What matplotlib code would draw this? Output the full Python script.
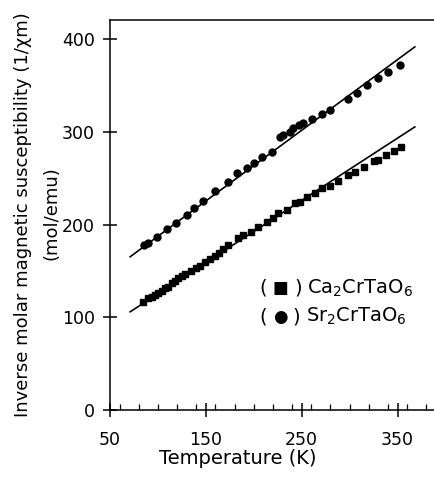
import matplotlib
matplotlib.use("Agg")
import matplotlib.pyplot as plt
from matplotlib.ticker import MultipleLocator, FixedLocator
from matplotlib.offsetbox import TextArea, HPacker, VPacker, AnnotationBbox

plt.rcParams['font.family'] = ['DejaVu Sans']
plt.rcParams['mathtext.fontset'] = 'dejavusans'

# Sr2CrTaO6 (circles)
sr_T = [85.5, 90.0, 98.7, 109.1, 118.8, 130.0, 137.9, 147.3, 159.5, 173.4,
        182.7, 192.5, 200.2, 208.2, 218.6, 227.3, 230.7, 237.7, 241.2, 247.4,
        251.6, 260.3, 270.7, 279.4, 298.5, 307.9, 317.7, 329.8, 340.2, 352.4]
sr_y = [178.0, 179.8, 186.3, 194.9, 202.1, 210.4, 217.6, 225.8, 236.2, 246.3,
        255.3, 260.7, 266.1, 273.3, 278.7, 294.2, 297.0, 300.3, 303.9, 307.4,
        309.9, 314.6, 319.3, 323.6, 336.2, 342.7, 350.6, 358.4, 365.0, 372.2]

# Ca2CrTaO6 (squares)
ca_T = [84.7, 90.0, 93.5, 96.9, 100.4, 103.9, 107.4, 110.8, 114.3, 117.8,
        121.2, 124.8, 128.2, 134.2, 139.4, 143.8, 149.1, 154.3, 159.5, 164.0,
        168.2, 172.7, 183.8, 189.0, 197.0, 204.6, 213.4, 220.3, 225.5, 234.2,
        242.9, 248.1, 255.1, 263.8, 270.7, 279.4, 288.1, 298.5, 305.5, 315.2,
        325.6, 329.8, 337.8, 346.1, 353.4]
ca_y = [116.8, 120.5, 122.2, 124.1, 126.6, 128.7, 131.3, 133.0, 136.7, 139.2,
        142.1, 144.6, 146.7, 150.3, 152.9, 155.7, 160.0, 162.6, 166.1, 169.7,
        173.4, 178.0, 185.2, 188.8, 192.3, 197.7, 203.1, 206.8, 212.2, 215.7,
        223.0, 224.7, 229.5, 233.8, 239.2, 241.6, 247.0, 253.5, 257.1, 262.5,
        268.6, 270.4, 275.8, 279.7, 283.4]

# Fitted lines (end points)
fit_T = [71, 368]
fit_sr = [165.4, 392.0]
fit_ca = [106.0, 305.6]

x_ticks = [50, 150, 250, 350]
y_ticks = [0, 100, 200, 300, 400]

fig = plt.figure(figsize=(4.34, 4.86), dpi=100)
ax = fig.add_axes([110/434, 76/486, 1 - 110/434, 390/486])

ax.plot(fit_T, fit_sr, color='black', lw=1.2)
ax.plot(fit_T, fit_ca, color='black', lw=1.2)
ax.plot(sr_T, sr_y, 'o', color='black', ms=5.0, mec='black')
ax.plot(ca_T, ca_y, 's', color='black', ms=4.8, mec='black')

ax.set_xlim(50, 388)
ax.set_ylim(0, 421)
ax.xaxis.set_major_locator(FixedLocator(x_ticks))
ax.xaxis.set_minor_locator(MultipleLocator(20))
ax.yaxis.set_major_locator(FixedLocator(y_ticks))
ax.tick_params(axis='both', which='major', direction='inout', length=10, width=1.1,
               labelsize=12.5)
ax.tick_params(axis='x', which='major', pad=10)
ax.tick_params(axis='y', which='major', pad=6)
ax.tick_params(axis='x', which='minor', direction='in', length=4, width=0.9)
ax.spines['right'].set_visible(False)
for s in ['left', 'bottom', 'top']:
    ax.spines[s].set_linewidth(1.1)

# legend-like text block
fs = 14
def row(sym, sym_size, label):
    return HPacker(children=[
        TextArea("(", textprops=dict(fontsize=fs)),
        TextArea(sym, textprops=dict(fontsize=sym_size)),
        TextArea(")", textprops=dict(fontsize=fs)),
        TextArea(label, textprops=dict(fontsize=fs)),
    ], align="center", pad=0, sep=4)

block = VPacker(children=[row("\u25A0", 12, "Ca$_2$CrTaO$_6$"),
                          row("\u25CF", 12, "Sr$_2$CrTaO$_6$")],
                align="left", pad=0, sep=5)
ab = AnnotationBbox(block, (206, 116), xycoords='data', box_alignment=(0, 0.5),
                    frameon=False, pad=0)
ax.add_artist(ab)

fig.text(238/434, 1 - 458/486, "Temperature (K)", fontsize=14, ha='center', va='center')
fig.text(23/434, 1 - 215/486, "Inverse molar magnetic susceptibility (1/\u03c7m)",
         fontsize=13, rotation=90, ha='center', va='center')
fig.text(52/434, 1 - 213/486, "(mol/emu)", fontsize=13, rotation=90,
         ha='center', va='center')

fig.savefig("out.png", dpi=100)
